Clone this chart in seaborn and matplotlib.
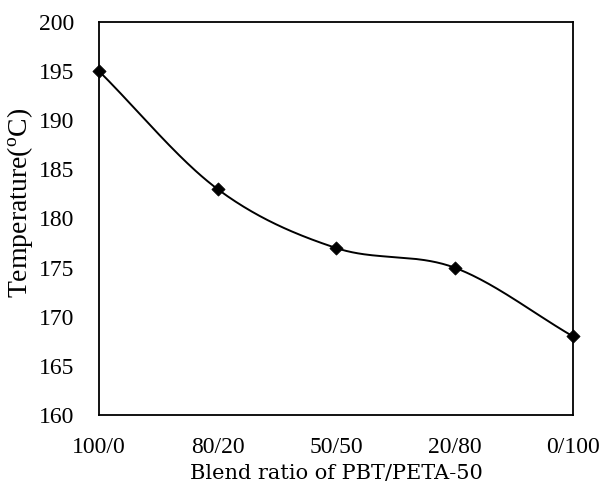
import numpy as np
import pandas as pd
import matplotlib
matplotlib.use("Agg")
import matplotlib.pyplot as plt
from matplotlib.font_manager import FontProperties
import seaborn as sns

categories = ["100/0", "80/20", "50/50", "20/80", "0/100"]
temperature = [195, 183, 177, 175, 168]
y_ticks = [160, 165, 170, 175, 180, 185, 190, 195, 200]

sns.set_theme(style="white")
plt.rcParams['font.family'] = ['Liberation Serif', 'DejaVu Serif']
plt.rcParams['mathtext.fontset'] = 'custom'
plt.rcParams['mathtext.rm'] = 'Liberation Serif'
plt.rcParams['mathtext.it'] = 'Liberation Serif'
for key in ['text.color', 'axes.labelcolor', 'xtick.color', 'ytick.color', 'axes.edgecolor']:
    plt.rcParams[key] = 'black'

df = pd.DataFrame({"pos": np.arange(len(categories)), "temp": temperature})

# Smooth (Catmull-Rom) curve through the data points, for line rendering
def catmull_rom(x, y, n=60):
    P = np.column_stack([x, y]).astype(float)
    P = np.vstack([2 * P[0] - P[1], P, 2 * P[-1] - P[-2]])
    out = []
    for i in range(1, len(P) - 2):
        p0, p1, p2, p3 = P[i - 1], P[i], P[i + 1], P[i + 2]
        t = np.linspace(0, 1, n)[:, None]
        seg = 0.5 * ((2 * p1) + (-p0 + p2) * t + (2 * p0 - 5 * p1 + 4 * p2 - p3) * t ** 2
                     + (-p0 + 3 * p1 - 3 * p2 + p3) * t ** 3)
        out.append(seg if i == 1 else seg[1:])
    return np.vstack(out)

curve = catmull_rom(df["pos"].values, df["temp"].values)
cdf = pd.DataFrame({"pos": curve[:, 0], "temp": curve[:, 1]})

fig = plt.figure(figsize=(6.06, 4.88), dpi=100)
ax = fig.add_axes([99 / 606, 1 - 415 / 488, (573 - 99) / 606, (415 - 22) / 488])

sns.lineplot(data=cdf, x="pos", y="temp", ax=ax, color="black", linewidth=1.4, sort=False)
sns.scatterplot(data=df, x="pos", y="temp", ax=ax, marker="D", color="black", s=45,
                edgecolor="black", zorder=5, clip_on=False)

tick_fp = FontProperties(family="Liberation Serif", size=17)
ax.set_xlim(0, len(categories) - 1)
ax.set_ylim(160, 200)
ax.set_yticks(y_ticks)
ax.set_yticklabels([str(v) for v in y_ticks], fontproperties=tick_fp)
ax.set_xticks(df["pos"])
ax.set_xticklabels(categories, fontproperties=tick_fp)
ax.tick_params(axis="y", direction="in", length=3, width=0.8, pad=18, color="black",
               labelcolor="black")
ax.tick_params(axis="x", length=0, pad=16, labelcolor="black")
for s in ax.spines.values():
    s.set_color("black")
    s.set_linewidth(1.3)
ax.set_xlabel("Blend ratio of PBT/PETA-50", color="black",
              fontproperties=FontProperties(family="DejaVu Serif", size=15), labelpad=4)
ax.set_ylabel("Temperature($^{o}$C)", color="black",
              fontproperties=FontProperties(family="Liberation Serif", size=20))
ax.yaxis.set_label_coords(-0.135, 0.54)

fig.savefig("out.png", dpi=100)
